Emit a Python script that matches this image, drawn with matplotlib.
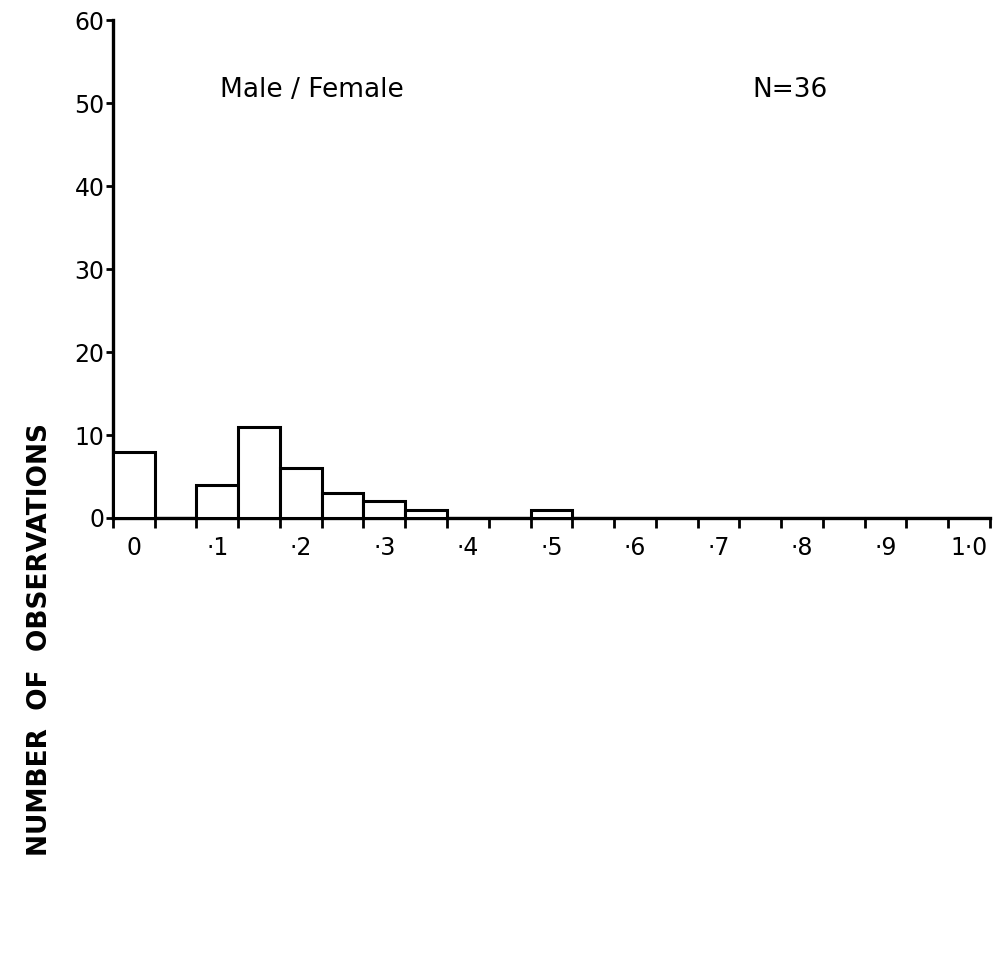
import numpy as np
import matplotlib.pyplot as plt
from matplotlib.ticker import FixedLocator

# histogram of ratio values, bins of width .05 centred on multiples of .05
bin_centres = np.arange(0, 1.0001, 0.05)
counts = [8, 0, 4, 11, 6, 3, 2, 1, 0, 0, 1, 0, 0, 0, 0, 0, 0, 0, 0, 0, 0]
tick_labels = ['0', '·1', '·2', '·3', '·4', '·5', '·6', '·7', '·8', '·9', '1·0']
label_pos = np.arange(0, 1.0001, 0.1)
y_ticks = [0, 10, 20, 30, 40, 50, 60]

fig = plt.figure(figsize=(9.99, 9.55), dpi=100)
ax = fig.add_axes([0.113, 0.4576, 0.878, 0.521])

width = 0.05
ax.bar(bin_centres, counts, width=width, facecolor='white', edgecolor='black',
       linewidth=2.2, zorder=3)

ax.set_xlim(-0.025, 1.025)
ax.set_ylim(0, 60)

for s in ['top', 'right']:
    ax.spines[s].set_visible(False)
for s in ['left', 'bottom']:
    ax.spines[s].set_linewidth(2.4)

ax.set_xticks(label_pos)
ax.set_xticklabels(tick_labels, fontsize=17)
ax.tick_params(axis='x', which='major', length=0, pad=13)
edges = np.arange(-0.025, 1.03, 0.05)
ax.xaxis.set_minor_locator(FixedLocator(edges))
ax.tick_params(axis='x', which='minor', length=7, width=2, direction='out')

ax.set_yticks(y_ticks)
ax.set_yticklabels([str(v) for v in y_ticks], fontsize=17)
ax.tick_params(axis='y', length=5, width=2, pad=1)

ax.text(0.213, 51.6, 'Male / Female', fontsize=19, ha='center', va='center')
ax.text(0.786, 51.6, 'N=36', fontsize=19, ha='center', va='center')

fig.text(0.040, 0.33, 'NUMBER  OF  OBSERVATIONS', rotation=90, fontsize=19,
         fontweight='bold', ha='center', va='center')

fig.savefig('out.png', dpi=100)
